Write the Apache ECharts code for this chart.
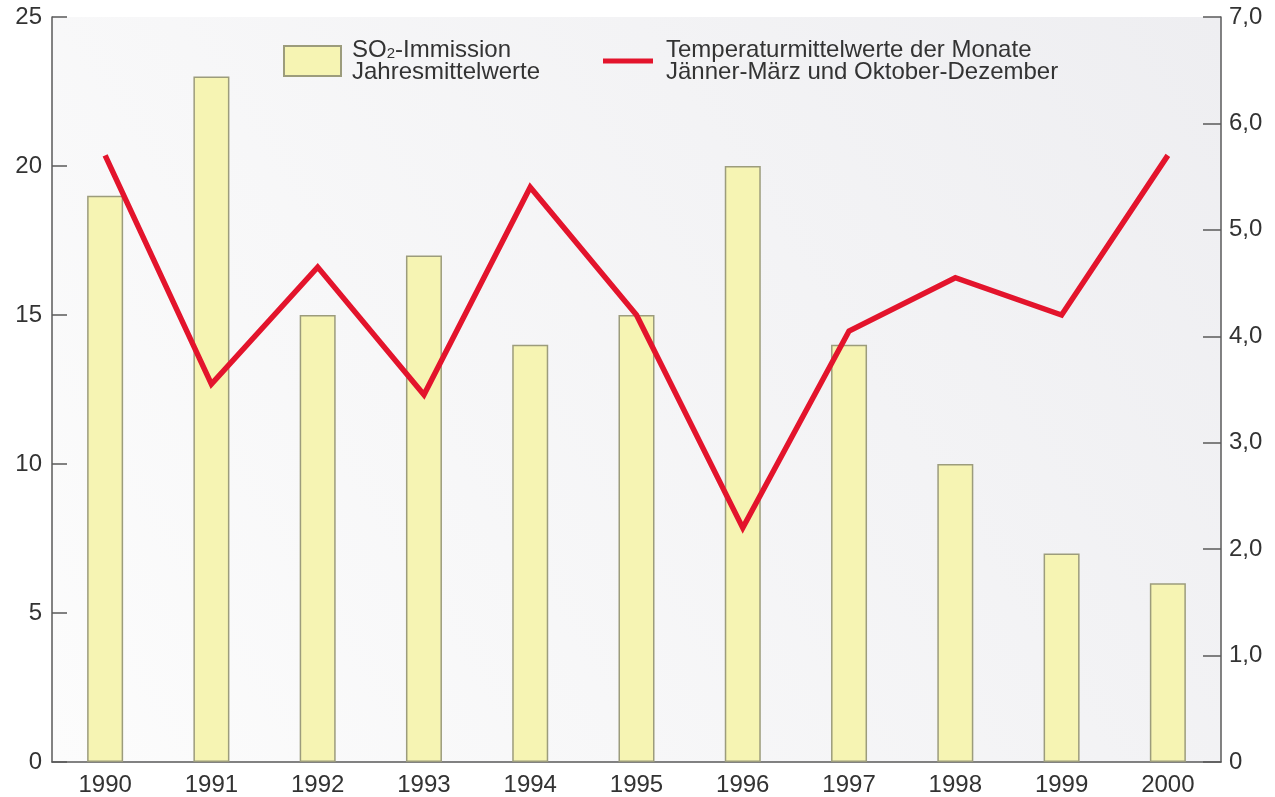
<!DOCTYPE html>
<html>
<head>
<meta charset="utf-8">
<script src="https://cdn.jsdelivr.net/npm/echarts@6/dist/echarts.min.js"></script>
<style>
  html, body { margin: 0; padding: 0; background: #fff; }
  #chart { width: 1275px; height: 797px; }
</style>
</head>
<body>
<div id="chart"></div>
<script>
var years = ['1990', '1991', '1992', '1993', '1994', '1995', '1996', '1997', '1998', '1999', '2000'];
// SO2-Immission Jahresmittelwerte (linke Achse)
var so2 = [19, 23, 15, 17, 14, 15, 20, 14, 10, 7, 6];
// Temperaturmittelwerte Jänner-März und Oktober-Dezember (rechte Achse)
var temp = [5.7, 3.55, 4.65, 3.45, 5.4, 4.2, 2.2, 4.05, 4.55, 4.2, 5.7];

var fontFamily = '"Liberation Sans", Arial, Helvetica, sans-serif';
var textColor = '#333';
var axisColor = '#5a5a5a';

var option = {
  animation: false,
  backgroundColor: '#fff',
  textStyle: { fontFamily: fontFamily },
  grid: {
    left: 52,
    right: 54,
    top: 17,
    bottom: 35,
    show: true,
    borderWidth: 0,
    backgroundColor: new echarts.graphic.LinearGradient(0, 1, 1, 0, [
      { offset: 0, color: '#fcfcfc' },
      { offset: 1, color: '#eeeef1' }
    ])
  },
  legend: [
    {
      data: [{ name: 'SO2', icon: 'rect' }],
      left: 283,
      top: 38,
      padding: 0,
      itemWidth: 57,
      itemHeight: 30,
      formatter: function () {
        return '{a|SO}{s|2}{a|-Immission}\n{a|Jahresmittelwerte}';
      },
      textStyle: {
        color: textColor,
        padding: [0, 0, 0, 6],
        rich: {
          a: { fontSize: 24, lineHeight: 22, color: textColor, fontFamily: fontFamily },
          s: { fontSize: 15, lineHeight: 22, color: textColor, fontFamily: fontFamily, verticalAlign: 'bottom' }
        }
      }
    },
    {
      data: [{ name: 'Temperatur', icon: 'rect' }],
      left: 603,
      top: 38,
      padding: 0,
      itemWidth: 50,
      itemHeight: 5,
      itemStyle: { color: '#e3142c' },
      formatter: function () {
        return 'Temperaturmittelwerte der Monate\nJänner-März und Oktober-Dezember';
      },
      textStyle: {
        color: textColor,
        fontSize: 24,
        lineHeight: 22,
        padding: [0, 0, 0, 8]
      }
    }
  ],
  xAxis: {
    type: 'category',
    data: years,
    axisLine: { show: true, lineStyle: { color: axisColor, width: 1.5 } },
    axisTick: { show: false },
    axisLabel: { color: textColor, fontSize: 24, margin: 11 },
    splitLine: { show: false }
  },
  yAxis: [
    {
      type: 'value',
      min: 0,
      max: 25,
      interval: 5,
      position: 'left',
      axisLine: { show: true, lineStyle: { color: axisColor, width: 1.5 } },
      axisTick: { show: true, inside: true, length: 15, lineStyle: { color: axisColor, width: 1.5 } },
      axisLabel: { color: textColor, fontSize: 24, margin: 10 },
      splitLine: { show: false }
    },
    {
      type: 'value',
      min: 0,
      max: 7,
      interval: 1,
      position: 'right',
      axisLine: { show: true, lineStyle: { color: axisColor, width: 1.5 } },
      axisTick: { show: true, inside: true, length: 18, lineStyle: { color: axisColor, width: 1.5 } },
      axisLabel: {
        color: textColor,
        fontSize: 24,
        margin: 8,
        formatter: function (v) {
          return v === 0 ? '0' : v.toFixed(1).replace('.', ',');
        }
      },
      splitLine: { show: false }
    }
  ],
  series: [
    {
      name: 'SO2',
      type: 'bar',
      yAxisIndex: 0,
      barWidth: 36,
      data: so2,
      itemStyle: {
        color: '#f6f4b3',
        borderColor: '#9c9c7c',
        borderWidth: 1.5
      }
    },
    {
      name: 'Temperatur',
      type: 'line',
      yAxisIndex: 1,
      data: temp,
      symbol: 'none',
      lineStyle: { color: '#e3142c', width: 5.5, join: 'miter' },
      itemStyle: { color: '#e3142c' }
    }
  ]
};

var myChart = echarts.init(document.getElementById('chart'));
myChart.setOption(option);
</script>
</body>
</html>
